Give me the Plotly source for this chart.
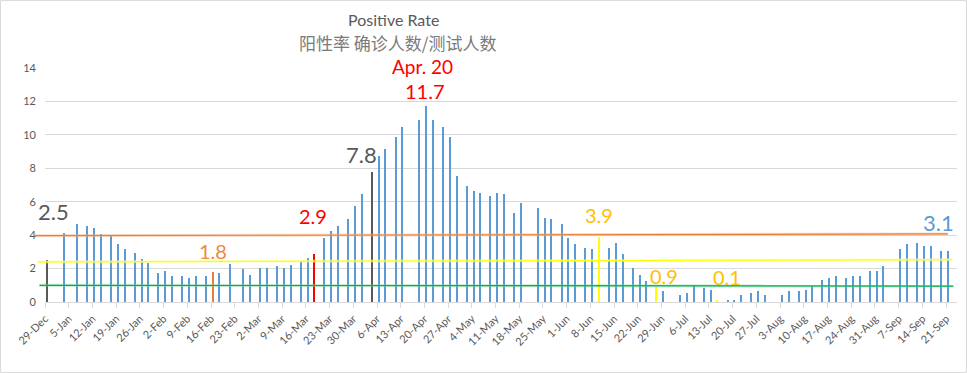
import pandas as pd
import plotly.graph_objects as go

# ---------------- data ----------------
dates = [
    "2018-12-29", "2019-01-03", "2019-01-07", "2019-01-10", "2019-01-12", "2019-01-14",
    "2019-01-17", "2019-01-19", "2019-01-21", "2019-01-24", "2019-01-26", "2019-01-28",
    "2019-01-31", "2019-02-02", "2019-02-04", "2019-02-07", "2019-02-09", "2019-02-11",
    "2019-02-14", "2019-02-16", "2019-02-18", "2019-02-21", "2019-02-25", "2019-02-27",
    "2019-03-02", "2019-03-04", "2019-03-07", "2019-03-09", "2019-03-11", "2019-03-14",
    "2019-03-16", "2019-03-18", "2019-03-21", "2019-03-23", "2019-03-25", "2019-03-28",
    "2019-03-30", "2019-04-01", "2019-04-04", "2019-04-06", "2019-04-08", "2019-04-11",
    "2019-04-13", "2019-04-18", "2019-04-20", "2019-04-22", "2019-04-25", "2019-04-27",
    "2019-04-29", "2019-05-02", "2019-05-04", "2019-05-06", "2019-05-09", "2019-05-11",
    "2019-05-13", "2019-05-16", "2019-05-18", "2019-05-23", "2019-05-25", "2019-05-27",
    "2019-05-30", "2019-06-01", "2019-06-03", "2019-06-06", "2019-06-08", "2019-06-10",
    "2019-06-13", "2019-06-15", "2019-06-17", "2019-06-20", "2019-06-22", "2019-06-24",
    "2019-06-27", "2019-06-29", "2019-07-04", "2019-07-06", "2019-07-08", "2019-07-11",
    "2019-07-13", "2019-07-15", "2019-07-18", "2019-07-20", "2019-07-22", "2019-07-25",
    "2019-07-27", "2019-07-29", "2019-08-03", "2019-08-05", "2019-08-08", "2019-08-10",
    "2019-08-12", "2019-08-15", "2019-08-17", "2019-08-19", "2019-08-22", "2019-08-24",
    "2019-08-26", "2019-08-29", "2019-08-31", "2019-09-02", "2019-09-07", "2019-09-09",
    "2019-09-12", "2019-09-14", "2019-09-16", "2019-09-19", "2019-09-21",
]
positive_rate = [
    2.5, 4.15, 4.69, 4.57, 4.45, 4.09,
    3.93, 3.49, 3.19, 2.95, 2.59, 2.35,
    1.76, 1.87, 1.58, 1.58, 1.46, 1.56,
    1.58, 1.77, 1.76, 2.30, 2.0, 1.64,
    2.06, 2.06, 2.18, 2.06, 2.2, 2.46,
    2.65, 2.9, 3.85, 4.27, 4.57, 4.99,
    5.77, 6.49, 7.8, 8.74, 9.18, 9.9,
    10.5, 10.86, 11.7, 10.86, 10.5, 9.9,
    7.56, 6.96, 6.67, 6.55, 6.37, 6.55,
    6.49, 5.31, 5.95, 5.65, 5.05, 4.99,
    4.69, 3.85, 3.49, 3.25, 3.19, 3.87,
    3.25, 3.55, 2.89, 2.06, 1.64, 1.28,
    0.9, 0.68, 0.44, 0.56, 1.04, 0.86,
    0.74, 0.07, 0.08, 0.14, 0.44, 0.56,
    0.68, 0.44, 0.44, 0.68, 0.68, 0.74,
    0.98, 1.34, 1.46, 1.58, 1.46, 1.58,
    1.58, 1.87, 1.87, 2.18, 3.19, 3.49,
    3.55, 3.37, 3.37, 3.07, 3.07,
]
highlight_colors = {
    "2018-12-29": "#595959",
    "2019-02-16": "#ED7D31",
    "2019-03-18": "#FF0000",
    "2019-04-04": "#595959",
    "2019-06-10": "#FFFF00",
    "2019-06-27": "#FFFF00",
    "2019-07-15": "#FFFF00",
}
tick_labels = [
    "29-Dec", "5-Jan", "12-Jan", "19-Jan", "26-Jan", "2-Feb", "9-Feb", "16-Feb",
    "23-Feb", "2-Mar", "9-Mar", "16-Mar", "23-Mar", "30-Mar", "6-Apr", "13-Apr",
    "20-Apr", "27-Apr", "4-May", "11-May", "18-May", "25-May", "1-Jun", "8-Jun",
    "15-Jun", "22-Jun", "29-Jun", "6-Jul", "13-Jul", "20-Jul", "27-Jul", "3-Aug",
    "10-Aug", "17-Aug", "24-Aug", "31-Aug", "7-Sep", "14-Sep", "21-Sep",
]
title_text = "Positive Rate"
subtitle_text = "阳性率 确诊人数/测试人数"
# text labels: (bar date, text, colour, font size, xshift, yshift)
labels = [
    ("2018-12-29", "2.5", "#595959", 22, 7, 49),
    ("2019-02-16", "1.8", "#EE8A3A", 20, 0, 21),
    ("2019-03-18", "2.9", "#FF0000", 20, -1, 38),
    ("2019-04-04", "7.8", "#595959", 22, -10, 17),
    ("2019-04-20", "11.7", "#FF0000", 20, -1, 15),
    ("2019-04-20", "Apr. 20", "#FF0000", 19, -4, 40),
    ("2019-06-10", "3.9", "#FFC000", 20, 0, 22),
    ("2019-06-27", "0.9", "#FFC000", 20, 8, 11),
    ("2019-07-15", "0.1", "#FFC000", 20, 10, 24),
    ("2019-09-21", "3.1", "#5B9BD5", 22, -9, 28),
]
# reference lines: (colour, halo, y at left, y at right, x0, x1 in paper units)
ref_lines = [
    ("#ED7D31", "rgba(244,177,131,0.45)", 3.97, 4.07, -0.011, 0.990),
    ("#FFFF00", "rgba(255,255,150,0.45)", 2.40, 2.53, -0.008, 0.995),
    ("#00B050", "rgba(120,210,150,0.45)", 1.00, 0.95, -0.006, 0.996),
]

BLUE = "#5B9BD5"
DAY_MS = 86400000
FONT = "Lato, 'Noto Sans', sans-serif"

dt = pd.to_datetime(dates)
value_by_date = dict(zip(dates, positive_rate))
colors = [highlight_colors.get(d, BLUE) for d in dates]
tickvals = pd.date_range("2018-12-29", periods=len(tick_labels), freq="7D")

fig = go.Figure()
fig.add_trace(go.Bar(
    x=dt, y=positive_rate,
    xperiod=DAY_MS, xperiodalignment="middle",
    width=[0.3 * DAY_MS] * len(dates),
    marker=dict(color=colors, line=dict(width=0)),
    hoverinfo="x+y",
))

for d, txt, col, size, xs, ys in labels:
    fig.add_annotation(
        x=pd.Timestamp(d) + pd.Timedelta(hours=12), y=value_by_date[d],
        text=txt, showarrow=False, xanchor="center", yanchor="middle",
        xshift=xs, yshift=ys, font=dict(family=FONT, size=size, color=col),
    )

for col, halo, y0, y1, x0, x1 in ref_lines:
    for c, w in ((halo, 3), (col, 1.2)):
        fig.add_shape(type="line", xref="paper", yref="y", x0=x0, x1=x1, y0=y0, y1=y1,
                      line=dict(color=c, width=w), layer="above")

# titles
fig.add_annotation(xref="paper", yref="paper", x=0.382, y=1.209, text=title_text,
                   showarrow=False, xanchor="center", yanchor="middle",
                   font=dict(family=FONT, size=16, color="#595959"))
fig.add_annotation(xref="paper", yref="paper", x=0.386, y=1.107, text=subtitle_text,
                   showarrow=False, xanchor="center", yanchor="middle",
                   font=dict(family="'Noto Sans CJK SC', sans-serif", size=17, color="#7A7A7A"))

# chart border
fig.add_shape(type="rect", xref="paper", yref="paper", x0=-0.0488, x1=1.0104, y0=-0.301, y1=1.288,
              line=dict(color="#D9D9D9", width=1), fillcolor="rgba(0,0,0,0)", layer="below")

fig.update_layout(
    width=967, height=373,
    margin=dict(l=45, r=10, t=68, b=71),
    paper_bgcolor="white", plot_bgcolor="white",
    showlegend=False,
    bargap=0,
    font=dict(family=FONT, color="#595959"),
    xaxis=dict(
        type="date",
        range=["2018-12-29", "2019-09-24 05:00"],
        tickvals=tickvals, ticktext=tick_labels,
        tickangle=-45, tickfont=dict(size=11, color="#595959"),
        showgrid=False, showline=True, linecolor="#D9D9D9", linewidth=1,
        ticks="outside", ticklen=5, tickcolor="#D9D9D9",
        zeroline=False,
    ),
    yaxis=dict(
        range=[0, 14], tickvals=list(range(0, 15, 2)),
        tickfont=dict(size=11, color="#595959"),
        showgrid=True, gridcolor="#D9D9D9", gridwidth=1,
        zeroline=False, showline=False, ticks="", ticklabelstandoff=8,
    ),
)

fig.write_html("out.html", config={"displayModeBar": False},
               post_script="document.body.style.margin='0';")
